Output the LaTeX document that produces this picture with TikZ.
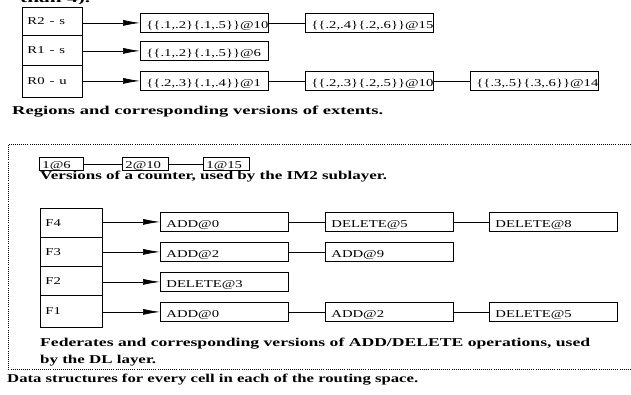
\documentclass[tikz,border=0pt]{standalone}
\usepackage{fontspec}
\setmainfont{Liberation Serif}
\usetikzlibrary{arrows.meta}
\newcommand\sx[1]{\scalebox{1.4}[1]{#1}}
\newcommand\bt[2][-6pt]{\smash{\raisebox{#1}{\sx{#2}}}}
\newcommand\capw[2]{\resizebox{#1}{\height}{\fontsize{12}{14}\selectfont\bfseries #2}}
\begin{document}
\begin{tikzpicture}[x=1pt,y=-1pt,font=\fontsize{10.5}{12}\selectfont,
  cellbox/.style={draw, line width=0.9pt, anchor=north west, inner xsep=5pt, inner ysep=0pt, align=left},
  verbox/.style={draw, line width=0.8pt, anchor=north west, inner xsep=6pt, inner ysep=0pt, text width=116pt, minimum width=128pt, minimum height=19pt, align=left},
  cntbox/.style={draw, line width=0.8pt, anchor=north west, inner xsep=3pt, inner ysep=0pt, minimum height=13pt, align=left},
  link/.style={line width=0.7pt},
  arr/.style={line width=0.7pt, -{Latex[length=17pt,width=6pt]}},
  captxt/.style={anchor=base west, inner sep=0pt},
  dotframe/.style={line width=0.7pt, dash pattern=on 0.8pt off 1.3pt}]
\useasboundingbox (0,0) rectangle (631,395);
% cut-off line at the top
\begin{scope}
\clip (0,0) rectangle (631,4);
\node[captxt] (topcut) at (20,3) {\capw{70pt}{than 4).}};
\end{scope}
% regions
\node[cellbox, text width=50pt, minimum height=28pt] (r2) at (22,7) {\sx{R2 - s}};
\node[cellbox, text width=50pt, minimum height=30pt] (r1) at (22,35) {\sx{R1 - s}};
\node[cellbox, text width=50pt, minimum height=32pt] (r0) at (22,65) {\sx{R0 - u}};
\node[verbox] (e21) at (140,13) {\bt{\{\{.1,.2\}\{.1,.5\}\}@10}};
\node[verbox] (e22) at (305,13) {\bt{\{\{.2,.4\}\{.2,.6\}\}@15}};
\node[verbox] (e11) at (140,41) {\bt{\{\{.1,.2\}\{.1,.5\}\}@6}};
\node[verbox] (e01) at (140,71) {\bt{\{\{.2,.3\}\{.1,.4\}\}@1}};
\node[verbox] (e02) at (305,71) {\bt{\{\{.2,.3\}\{.2,.5\}\}@10}};
\node[verbox] (e03) at (470,71) {\bt{\{\{.3,.5\}\{.3,.6\}\}@14}};
\draw[arr] (e21.west -| r2.east) -- (e21.west);
\draw[arr] (e11.west -| r1.east) -- (e11.west);
\draw[arr] (e01.west -| r0.east) -- (e01.west);
\draw[link] (e21.east) -- (e22.west);
\draw[link] (e01.east) -- (e02.west);
\draw[link] (e02.east) -- (e03.west);
\node[captxt] (capr) at (12,115) {\capw{371pt}{Regions and corresponding versions of extents.}};
% frame
\draw[dotframe] (633,144) -| (8,369) -- (633,369);
% counter
\node[cntbox, text width=38pt] (c1) at (39,157) {\bt[-5pt]{1@6}};
\node[cntbox, text width=40pt] (c2) at (122,157) {\bt[-5pt]{2@10}};
\node[cntbox, text width=40pt] (c3) at (203,157) {\bt[-5pt]{1@15}};
\draw[link] (c1.east) -- (c2.west);
\draw[link] (c2.east) -- (c3.west);
\node[captxt] (capc) at (40,180) {\capw{347pt}{Versions of a counter, used by the IM2 sublayer.}};
% federates
\node[cellbox, text width=52pt, minimum height=29pt] (f4) at (40,208) {\sx{F4}};
\node[cellbox, text width=52pt, minimum height=29pt] (f3) at (40,237) {\sx{F3}};
\node[cellbox, text width=52pt, minimum height=29pt] (f2) at (40,266) {\sx{F2}};
\node[cellbox, text width=52pt, minimum height=32pt] (f1) at (40,295) {\sx{F1}};
\node[verbox] (a41) at (160,212) {\bt{ADD@0}};
\node[verbox] (a42) at (325,212) {\bt{DELETE@5}};
\node[verbox] (a43) at (489,212) {\bt{DELETE@8}};
\node[verbox] (a31) at (160,242) {\bt{ADD@2}};
\node[verbox] (a32) at (325,242) {\bt{ADD@9}};
\node[verbox] (a21) at (160,272) {\bt{DELETE@3}};
\node[verbox] (a11) at (160,302) {\bt{ADD@0}};
\node[verbox] (a12) at (325,302) {\bt{ADD@2}};
\node[verbox] (a13) at (489,302) {\bt{DELETE@5}};
\draw[arr] (a41.west -| f4.east) -- (a41.west);
\draw[arr] (a31.west -| f3.east) -- (a31.west);
\draw[arr] (a21.west -| f2.east) -- (a21.west);
\draw[arr] (a11.west -| f1.east) -- (a11.west);
\draw[link] (a41.east) -- (a42.west);
\draw[link] (a42.east) -- (a43.west);
\draw[link] (a31.east) -- (a32.west);
\draw[link] (a11.east) -- (a12.west);
\draw[link] (a12.east) -- (a13.west);
\node[captxt] (capf1) at (40,346) {\capw{550pt}{Federates and corresponding versions of ADD/DELETE operations, used}};
\node[captxt] (capf2) at (40,363) {\capw{116pt}{by the DL layer.}};
\node[captxt] (capd) at (7,382) {\capw{411pt}{Data structures for every cell in each of the routing space.}};
\end{tikzpicture}
\end{document}
